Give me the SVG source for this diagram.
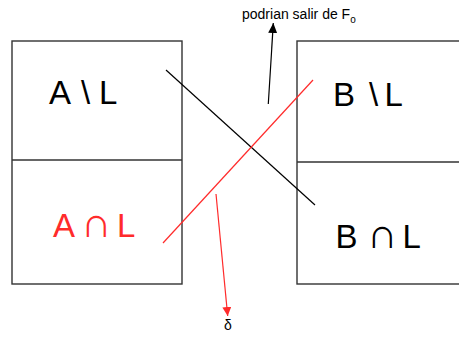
<svg xmlns="http://www.w3.org/2000/svg" width="459" height="337" viewBox="0 0 459 337">
<style>
.box{fill:none;stroke:#333;stroke-width:1.4}
.lbl{font-family:"Liberation Sans",Arial,sans-serif;font-size:33px;fill:#000}
.cap{font-size:42px}
.red{fill:#ff2b2b}
.small{font-family:"Liberation Sans",Arial,sans-serif;font-size:14px;fill:#000}
.ln{fill:none;stroke-width:1.2}
</style>
<defs>
<marker id="ahB" markerUnits="userSpaceOnUse" markerWidth="10" markerHeight="9" refX="10" refY="4.5" orient="auto" viewBox="0 0 10 9">
<path d="M0,0 L10,4.5 L0,9 z" fill="#000"/>
</marker>
<marker id="ahR" markerUnits="userSpaceOnUse" markerWidth="9" markerHeight="9" refX="9" refY="4.5" orient="auto" viewBox="0 0 9 9">
<path d="M0,0 L9,4.5 L0,9 z" fill="#ff2b2b"/>
</marker>
</defs>
<g id="boxA">
<rect class="box" x="12" y="41" width="170" height="243"/>
<line class="box" x1="12" y1="160" x2="182" y2="160"/>
<text class="lbl" y="104"><tspan x="49">A</tspan> <tspan x="81">\</tspan> <tspan x="99">L</tspan></text>
<text class="lbl red" y="237"><tspan x="53">A</tspan> <tspan class="cap" x="81">∩</tspan> <tspan x="117">L</tspan></text>
</g>
<g id="boxB">
<rect class="box" x="297" y="41" width="170" height="243"/>
<line class="box" x1="297" y1="162" x2="467" y2="162"/>
<text class="lbl" y="106"><tspan x="333">B</tspan> <tspan x="369">\</tspan> <tspan x="384.5">L</tspan></text>
<text class="lbl" y="248"><tspan x="335.5">B</tspan> <tspan class="cap" x="367">∩</tspan> <tspan x="402.5">L</tspan></text>
</g>
<g id="connectors">
<line class="ln" stroke="#000" x1="166" y1="70" x2="315" y2="205"/>
<line class="ln" stroke="#ff2b2b" x1="313" y1="80" x2="163" y2="243"/>
<line class="ln" stroke="#000" x1="268.3" y1="104" x2="273.3" y2="23" marker-end="url(#ahB)"/>
<line class="ln" stroke="#ff2b2b" x1="216" y1="194" x2="227.7" y2="316" marker-end="url(#ahR)"/>
</g>
<g id="labels">
<text class="small" x="242" y="19">podrian salir de F<tspan font-size="10" dy="3.5">o</tspan></text>
<text class="small red" x="228" y="330" font-size="18" text-anchor="middle">δ</text>
</g>
</svg>
